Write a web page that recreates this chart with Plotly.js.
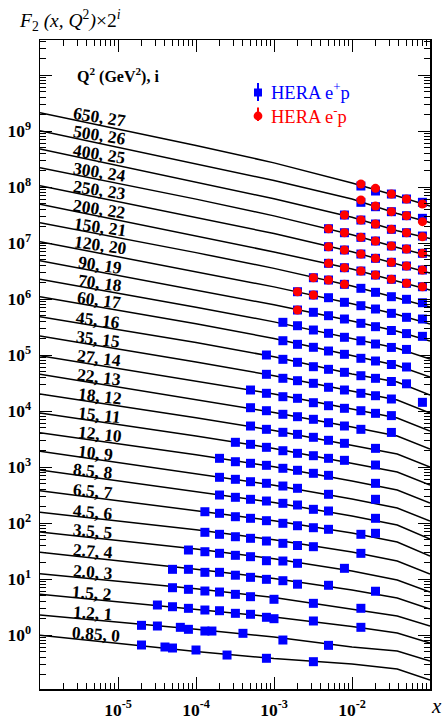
<!DOCTYPE html>
<html>
<head>
<meta charset="utf-8">
<script src="https://cdn.plot.ly/plotly-3.0.1.min.js"></script>
<style>
  html, body { margin: 0; padding: 0; background: #ffffff; }
  #chart { width: 446px; height: 719px; }
</style>
</head>
<body>
<div id="chart"></div>
<script>
// Q^2 bins (GeV^2); bin index i is the offset exponent: everything is drawn as F2 * 2^i
const q2Labels = ["0.85", "1.2", "1.5", "2.0", "2.7", "3.5", "4.5", "6.5", "8.5", "10",
                  "12", "15", "18", "22", "27", "35", "45", "60", "70", "90",
                  "120", "150", "200", "250", "300", "400", "500", "650"];

// x points at which each fit curve is tabulated
const fitX = [1e-6, 1e-4, 1e-3, 1e-2, 0.038, 0.1];

// fit curves: F2 at fitX for each bin (index = i)
const fitF2 = [
  [0.988, 0.510, 0.379, 0.303, 0.247, 0.157],
  [1.14, 0.637, 0.461, 0.305, 0.259, 0.172],
  [1.33, 0.731, 0.526, 0.354, 0.271, 0.180],
  [1.55, 0.836, 0.584, 0.364, 0.273, 0.181],
  [1.87, 0.935, 0.638, 0.398, 0.286, 0.182],
  [2.16, 1.07, 0.720, 0.434, 0.300, 0.183],
  [2.43, 1.18, 0.786, 0.474, 0.328, 0.192],
  [2.95, 1.32, 0.859, 0.518, 0.358, 0.201],
  [3.45, 1.44, 0.904, 0.521, 0.360, 0.202],
  [3.72, 1.50, 0.924, 0.524, 0.362, 0.212],
  [4.00, 1.61, 0.984, 0.549, 0.379, 0.222],
  [4.50, 1.75, 1.05, 0.575, 0.398, 0.233],
  [4.91, 1.85, 1.10, 0.603, 0.416, 0.244],
  [5.52, 1.98, 1.15, 0.632, 0.437, 0.256],
  [5.93, 2.11, 1.23, 0.663, 0.457, 0.268],
  [6.67, 2.29, 1.30, 0.694, 0.480, 0.281],
  [7.37, 2.54, 1.42, 0.698, 0.503, 0.294],
  [8.38, 2.76, 1.51, 0.732, 0.495, 0.309],
  [8.58, 2.73, 1.49, 0.736, 0.502, 0.324],
  [9.21, 2.77, 1.50, 0.772, 0.505, 0.339],
  [10.06, 2.97, 1.57, 0.783, 0.504, 0.341],
  [10.98, 3.21, 1.68, 0.814, 0.497, 0.343],
  [11.70, 3.20, 1.65, 0.818, 0.499, 0.345],
  [12.58, 3.46, 1.76, 0.830, 0.503, 0.347],
  [13.18, 3.62, 1.82, 0.835, 0.495, 0.349],
  [14.21, 3.71, 1.84, 0.857, 0.494, 0.358],
  [15.08, 3.90, 1.94, 0.909, 0.503, 0.346],
  [15.8, 4.12, 2.01, 0.878, 0.514, 0.341]
];

// HERA e+p measurements: x and F2 per bin
const epX = [
  [2e-5, 4e-5, 5e-5, 1e-4, 2.5e-4, 8e-4, 3.2e-3],
  [2e-5, 3.2e-5, 6.3e-5, 8e-5, 1.3e-4, 1.6e-4, 4e-4, 1.3e-3, 5e-3],
  [3.2e-5, 5e-5, 8e-5, 1.3e-4, 2e-4, 3.2e-4, 5e-4, 8e-4, 1e-3, 3.2e-3, 0.013],
  [5e-5, 8e-5, 1.3e-4, 2e-4, 3.2e-4, 5e-4, 1e-3, 3.2e-3, 0.013],
  [5e-5, 8e-5, 1.3e-4, 2e-4, 3.2e-4, 5e-4, 8e-4, 1.3e-3, 2e-3, 5e-3, 0.02],
  [8e-5, 1.3e-4, 2e-4, 3.2e-4, 5e-4, 8e-4, 1.3e-3, 2e-3, 8e-3],
  [1.3e-4, 2e-4, 3.2e-4, 5e-4, 8e-4, 1.3e-3, 2e-3, 3.2e-3, 0.013],
  [1.3e-4, 2e-4, 3.2e-4, 5e-4, 8e-4, 1.3e-3, 2e-3, 3.2e-3, 5e-3, 0.013, 0.02],
  [2e-4, 3.2e-4, 5e-4, 8e-4, 1.3e-3, 2e-3, 3.2e-3, 5e-3, 0.02],
  [2e-4, 3.2e-4, 5e-4, 8e-4, 1.3e-3, 2e-3, 5e-3, 0.02],
  [2e-4, 3.2e-4, 5e-4, 8e-4, 1.3e-3, 2e-3, 3.2e-3, 5e-3, 0.02],
  [3.2e-4, 5e-4, 8e-4, 1.3e-3, 2e-3, 3.2e-3, 5e-3, 8e-3, 0.02],
  [5e-4, 8e-4, 1.3e-3, 2e-3, 3.2e-3, 5e-3, 8e-3, 0.02],
  [5e-4, 8e-4, 1.3e-3, 2e-3, 3.2e-3, 5e-3, 8e-3, 0.013, 0.032],
  [5e-4, 8e-4, 1.3e-3, 2e-3, 3.2e-3, 5e-3, 8e-3, 0.013, 0.02, 0.032],
  [8e-4, 1.3e-3, 2e-3, 3.2e-3, 5e-3, 8e-3, 0.013, 0.02, 0.032, 0.08],
  [8e-4, 1.3e-3, 2e-3, 3.2e-3, 5e-3, 8e-3, 0.013, 0.02, 0.032, 0.05],
  [1.3e-3, 2e-3, 3.2e-3, 5e-3, 8e-3, 0.013, 0.02, 0.032, 0.05],
  [1.3e-3, 2e-3, 3.2e-3, 5e-3, 8e-3, 0.013, 0.02, 0.032, 0.05],
  [2e-3, 3.2e-3, 5e-3, 8e-3, 0.013, 0.02, 0.032, 0.05, 0.08],
  [2e-3, 3.2e-3, 5e-3, 8e-3, 0.013, 0.02, 0.032, 0.05, 0.08],
  [3.2e-3, 5e-3, 8e-3, 0.013, 0.02, 0.032, 0.05, 0.08],
  [5e-3, 8e-3, 0.013, 0.02, 0.032, 0.05, 0.08],
  [5e-3, 8e-3, 0.013, 0.02, 0.032, 0.05, 0.08],
  [5e-3, 8e-3, 0.013, 0.02, 0.032, 0.05, 0.08],
  [8e-3, 0.013, 0.02, 0.032, 0.05, 0.08],
  [0.013, 0.02, 0.032, 0.05, 0.08],
  [0.013, 0.02, 0.032, 0.05, 0.08]
];
const epF2 = [
  [0.663, 0.611, 0.586, 0.540, 0.439, 0.384, 0.334],
  [0.745, 0.724, 0.686, 0.632, 0.589, 0.589, 0.536, 0.407, 0.327],
  [0.858, 0.800, 0.749, 0.699, 0.679, 0.610, 0.586, 0.518, 0.489, 0.445, 0.343],
  [0.874, 0.818, 0.763, 0.732, 0.666, 0.604, 0.543, 0.460, 0.375],
  [0.931, 0.931, 0.823, 0.823, 0.731, 0.670, 0.617, 0.583, 0.505, 0.483, 0.378],
  [1.030, 0.960, 0.899, 0.828, 0.782, 0.663, 0.655, 0.596, 0.485],
  [1.066, 0.982, 0.889, 0.833, 0.745, 0.678, 0.619, 0.590, 0.449],
  [1.243, 1.164, 1.012, 0.948, 0.859, 0.772, 0.699, 0.644, 0.603, 0.491, 0.512],
  [1.235, 1.124, 1.035, 0.965, 0.878, 0.819, 0.686, 0.640, 0.474],
  [1.279, 1.178, 1.067, 1.000, 0.894, 0.814, 0.636, 0.518],
  [1.396, 1.214, 1.137, 1.047, 0.926, 0.853, 0.754, 0.694, 0.499],
  [1.348, 1.241, 1.097, 0.954, 0.857, 0.777, 0.698, 0.643, 0.530],
  [1.317, 1.150, 1.017, 0.936, 0.828, 0.732, 0.647, 0.526],
  [1.398, 1.236, 1.066, 0.966, 0.868, 0.755, 0.659, 0.575, 0.506],
  [1.447, 1.264, 1.099, 1.029, 0.859, 0.759, 0.682, 0.618, 0.555, 0.505],
  [1.380, 1.171, 1.061, 0.953, 0.809, 0.724, 0.632, 0.572, 0.500, 0.436],
  [1.526, 1.278, 1.130, 0.943, 0.847, 0.749, 0.651, 0.585, 0.513, 0.467],
  [1.373, 1.184, 1.047, 0.899, 0.785, 0.666, 0.596, 0.516, 0.466],
  [1.463, 1.272, 1.066, 0.931, 0.790, 0.684, 0.599, 0.521, 0.480],
  [1.213, 1.104, 0.960, 0.838, 0.702, 0.611, 0.522, 0.460, 0.411],
  [1.287, 1.124, 1.006, 0.833, 0.724, 0.632, 0.529, 0.449, 0.419],
  [1.144, 1.041, 0.872, 0.740, 0.628, 0.524, 0.471, 0.409],
  [1.034, 0.863, 0.754, 0.639, 0.536, 0.455, 0.395],
  [1.024, 0.894, 0.758, 0.635, 0.539, 0.463, 0.393],
  [1.073, 0.910, 0.753, 0.647, 0.527, 0.466, 0.390],
  [0.942, 0.767, 0.651, 0.523, 0.455, 0.397],
  [0.794, 0.663, 0.540, 0.458, 0.411],
  [0.776, 0.632, 0.558, 0.455, 0.397]
];

// HERA e-p measurements (bins 19..27 only)
const emBins = [19, 20, 21, 22, 23, 24, 25, 26, 27];
const emX = [
  [2e-3],
  [2e-3, 3.2e-3],
  [3.2e-3, 5e-3, 8e-3],
  [5e-3, 8e-3, 0.013, 0.02, 0.032, 0.05, 0.08],
  [5e-3, 8e-3, 0.013, 0.02, 0.032, 0.05, 0.08],
  [5e-3, 8e-3, 0.013, 0.02, 0.032, 0.05, 0.08],
  [8e-3, 0.013, 0.02, 0.032, 0.05, 0.08],
  [0.013, 0.02, 0.032, 0.05, 0.08],
  [0.013, 0.02, 0.032, 0.05, 0.08]
];
const emF2 = [
  [1.213],
  [1.287, 1.124],
  [1.144, 1.041, 0.872],
  [1.034, 0.863, 0.754, 0.639, 0.536, 0.455, 0.395],
  [1.024, 0.894, 0.758, 0.635, 0.539, 0.463, 0.393],
  [1.073, 0.910, 0.753, 0.647, 0.527, 0.466, 0.390],
  [0.942, 0.767, 0.651, 0.523, 0.455, 0.386],
  [0.873, 0.682, 0.540, 0.458, 0.358],
  [0.842, 0.706, 0.558, 0.455, 0.370]
];

// axis tick labels
const xTickVals = [1e-5, 1e-4, 1e-3, 1e-2];
const xTickText = ["10<sup>-5</sup>", "10<sup>-4</sup>", "10<sup>-3</sup>", "10<sup>-2</sup>"];
const yTickVals = [1, 10, 100, 1e3, 1e4, 1e5, 1e6, 1e7, 1e8, 1e9, 1e10];
const yTickText = ["10<sup>0</sup>", "10<sup>1</sup>", "10<sup>2</sup>", "10<sup>3</sup>", "10<sup>4</sup>",
                   "10<sup>5</sup>", "10<sup>6</sup>", "10<sup>7</sup>", "10<sup>8</sup>", "10<sup>9</sup>", " "];

// ---------- geometry of the frame (pixels of the 446x719 page) ----------
const X_RANGE = [-6, -1];
const Y_RANGE = [-0.964, 10.625];
const FRAME = { l: 40, r: 430, t: 40, b: 689 };
const pX = px => (px - FRAME.l) / (FRAME.r - FRAME.l);
const pY = py => (FRAME.b - py) / (FRAME.b - FRAME.t);
const xPix = lx => FRAME.l + (lx - X_RANGE[0]) / (X_RANGE[1] - X_RANGE[0]) * (FRAME.r - FRAME.l);
const yPix = ly => FRAME.b - (ly - Y_RANGE[0]) / (Y_RANGE[1] - Y_RANGE[0]) * (FRAME.b - FRAME.t);

const scale = i => Math.pow(2, i);
const SERIF = "Liberation Serif, Times New Roman, serif";

// ---------- traces ----------
const traces = [];

// fit curves
fitF2.forEach((row, i) => {
  traces.push({
    type: "scatter", mode: "lines",
    x: fitX, y: row.map(v => v * scale(i)),
    line: { color: "#000000", width: 1.5 },
    hoverinfo: "skip", showlegend: false
  });
});

// e+p points (blue squares)
const bx = [], by = [];
epX.forEach((xs, i) => xs.forEach((x, k) => { bx.push(x); by.push(epF2[i][k] * scale(i)); }));
traces.push({
  type: "scatter", mode: "markers", x: bx, y: by,
  marker: { symbol: "square", size: 9, color: "#0000ff", line: { width: 0 } },
  hoverinfo: "skip", showlegend: false
});

// e-p points (red circles), drawn on top
const rx = [], ry = [];
emX.forEach((xs, j) => xs.forEach((x, k) => { rx.push(x); ry.push(emF2[j][k] * scale(emBins[j])); }));
traces.push({
  type: "scatter", mode: "markers", x: rx, y: ry,
  marker: { symbol: "circle", size: 9, color: "#ff0000", line: { width: 0 } },
  hoverinfo: "skip", showlegend: false
});

// ---------- curve labels "Q2, i" ----------
const labelLeft = [70, 71.7, 70.7, 70.7, 70.7, 70.7, 70.7, 70.7, 70.7, 76,
                   76, 76, 76, 75, 75, 74, 74, 75, 76, 76,
                   71.7, 71.7, 70.7, 70.7, 70.7, 70.7, 70.7, 70.7];

function curveLogAt(i, lx) {
  const lxs = fitX.map(Math.log10);
  const lys = fitF2[i].map(v => Math.log10(v * scale(i)));
  for (let k = 0; k < lxs.length - 1; k++) {
    if (lx <= lxs[k + 1]) {
      const t = (lx - lxs[k]) / (lxs[k + 1] - lxs[k]);
      return lys[k] + t * (lys[k + 1] - lys[k]);
    }
  }
  return lys[lys.length - 1];
}

const annotations = [];
q2Labels.forEach((q, i) => {
  const left = labelLeft[i];
  const cx = left + 25;
  const lx = X_RANGE[0] + (cx - FRAME.l) / (FRAME.r - FRAME.l) * (X_RANGE[1] - X_RANGE[0]);
  const cy = yPix(curveLogAt(i, lx)) - 7;
  // tilt the label a little along the local slope of its curve
  const l0 = Math.log10(fitX[0]), l1 = Math.log10(fitX[1]);
  const slope = (yPix(curveLogAt(i, l1)) - yPix(curveLogAt(i, l0))) / (xPix(l1) - xPix(l0));
  const ang = Math.atan(slope) * 180 / Math.PI * 0.75;
  annotations.push({
    xref: "paper", yref: "paper", x: pX(left - 1), y: pY(cy),
    xanchor: "left", yanchor: "middle", showarrow: false,
    text: q + ", " + i, textangle: ang,
    font: { family: SERIF, size: 17.5, color: "#000000", weight: "bold" }
  });
});

// header texts
annotations.push({
  xref: "paper", yref: "paper", x: pX(75), y: pY(75), xanchor: "left", yanchor: "middle",
  showarrow: false, text: "Q<sup>2</sup> (GeV<sup>2</sup>), i",
  font: { family: SERIF, size: 16, color: "#000000", weight: "bold" }
});
annotations.push({
  xref: "paper", yref: "paper", x: pX(17), y: pY(20.5), xanchor: "left", yanchor: "middle",
  showarrow: false, text: "<i>F</i><sub>2</sub> <i>(x, Q</i><sup>2</sup><i>)</i>×2<sup><i>i</i></sup>",
  font: { family: SERIF, size: 19.5, color: "#000000" }
});
// axis variable, sitting in the lower right corner of the page
annotations.push({
  xref: "paper", yref: "paper", x: pX(436), y: pY(718.5), xanchor: "center", yanchor: "bottom",
  showarrow: false, text: "<i>x</i>", borderpad: 0,
  font: { family: SERIF, size: 21, color: "#000000" }
});

// legend entries
annotations.push({
  xref: "paper", yref: "paper", x: pX(269), y: pY(91), xanchor: "left", yanchor: "middle",
  showarrow: false, text: "HERA e<sup>+</sup>p",
  font: { family: SERIF, size: 18.5, color: "#0000ff" }
});
annotations.push({
  xref: "paper", yref: "paper", x: pX(269), y: pY(115), xanchor: "left", yanchor: "middle",
  showarrow: false, text: "HERA e<sup>-</sup>p",
  font: { family: SERIF, size: 18.5, color: "#ff0000" }
});

const shapes = [
  { type: "line", xref: "paper", yref: "paper", x0: pX(258), x1: pX(258), y0: pY(83), y1: pY(101),
    line: { color: "#0000ff", width: 2 } },
  { type: "rect", xref: "paper", yref: "paper", x0: pX(254), x1: pX(262), y0: pY(88.5), y1: pY(96.5),
    fillcolor: "#0000ff", line: { width: 0 } },
  { type: "line", xref: "paper", yref: "paper", x0: pX(258), x1: pX(258), y0: pY(107.5), y1: pY(121),
    line: { color: "#ff0000", width: 2 } },
  { type: "circle", xref: "paper", yref: "paper", x0: pX(253.6), x1: pX(262.4), y0: pY(111.6), y1: pY(120.4),
    fillcolor: "#ff0000", line: { width: 0 } }
];

// minor tick positions: 2..9 inside every decade
const xMinor = [];
for (let e = -6; e <= -2; e++) for (let k = 2; k <= 9; k++) xMinor.push(k * Math.pow(10, e));
const yMinor = [];
for (let e = -1; e <= 10; e++) for (let k = 2; k <= 9; k++) yMinor.push(k * Math.pow(10, e));

const axisCommon = {
  type: "log", showgrid: false, zeroline: false,
  showline: true, linecolor: "#000000", linewidth: 1.5, mirror: "allticks",
  ticks: "inside", ticklen: 12, tickwidth: 1, tickcolor: "#000000",
  tickmode: "array",
  tickfont: { family: SERIF, size: 17.5, color: "#000000", weight: "bold" }
};

const layout = {
  width: 446, height: 719,
  margin: { l: FRAME.l, r: 446 - FRAME.r, t: FRAME.t, b: 719 - FRAME.b },
  paper_bgcolor: "#ffffff", plot_bgcolor: "#ffffff",
  showlegend: false,
  xaxis: Object.assign({}, axisCommon, {
    range: X_RANGE, tickvals: xTickVals, ticktext: xTickText, ticklabelstandoff: 4,
    minor: { tickmode: "array", tickvals: xMinor, ticks: "inside", ticklen: 6, tickwidth: 1, tickcolor: "#000000", showgrid: false }
  }),
  yaxis: Object.assign({}, axisCommon, {
    range: Y_RANGE, tickvals: yTickVals, ticktext: yTickText, ticklabelstandoff: 4,
    minor: { tickmode: "array", tickvals: yMinor, ticks: "inside", ticklen: 6, tickwidth: 1, tickcolor: "#000000", showgrid: false }
  }),
  annotations: annotations,
  shapes: shapes
};

Plotly.newPlot("chart", traces, layout, { staticPlot: true, displayModeBar: false });
</script>
</body>
</html>
